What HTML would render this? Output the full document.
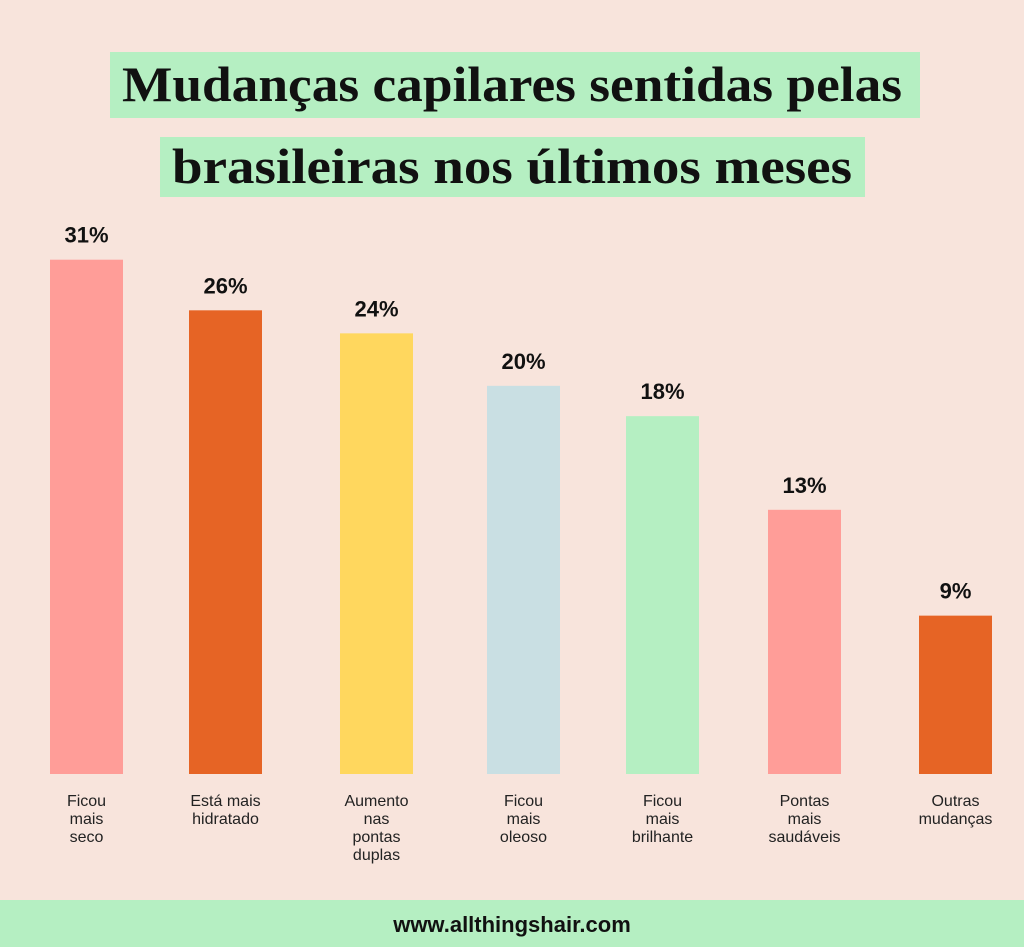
<!DOCTYPE html>
<html><head><meta charset="utf-8"><style>
body{margin:0;background:#f8e4dc;}
svg{display:block}
</style></head><body>
<svg id="c" width="1024" height="947" xmlns="http://www.w3.org/2000/svg">
<rect x="0" y="0" width="1024" height="947" fill="#f8e4dc"/>
<rect x="110" y="52" width="810" height="66" fill="#b5efc2"/>
<rect x="160" y="137" width="705" height="60" fill="#b5efc2"/>
<text x="512" y="101" text-anchor="middle" font-family="Liberation Serif, serif" font-weight="bold" font-size="50" textLength="780" lengthAdjust="spacingAndGlyphs" fill="#111">Mudanças capilares sentidas pelas</text>
<text x="512" y="183" text-anchor="middle" font-family="Liberation Serif, serif" font-weight="bold" font-size="50" textLength="680" lengthAdjust="spacingAndGlyphs" fill="#111">brasileiras nos últimos meses</text>
<g id="bars"></g>
<rect x="0" y="900" width="1024" height="47" fill="#b5efc2"/>
<text x="512" y="932" text-anchor="middle" font-family="Liberation Sans, sans-serif" font-weight="bold" font-size="22" fill="#111">www.allthingshair.com</text>
</svg>
<script>
const categories = [["Ficou","mais","seco"],["Está mais","hidratado"],["Aumento","nas","pontas","duplas"],["Ficou","mais","oleoso"],["Ficou","mais","brilhante"],["Pontas","mais","saudáveis"],["Outras","mudanças"]];
const values = [31,26,24,20,18,13,9];
const labels = ["31%","26%","24%","20%","18%","13%","9%"];
const colors = ["#ff9d98","#e66425","#ffd75e","#c9dfe3","#b5efc2","#ff9d98","#e66425"];
const centers = [86.5,225.5,376.5,523.5,662.5,804.5,955.5];
const baseY = 774;
function yScale(v){ return baseY - Math.max(0, -474 + 287.8*Math.log(v)); }
const g = document.getElementById('bars');
const NS = "http://www.w3.org/2000/svg";
values.forEach((v,i)=>{
  const cx = centers[i], top = yScale(v);
  const r = document.createElementNS(NS,'rect');
  r.setAttribute('x', cx-36.5); r.setAttribute('y', top);
  r.setAttribute('width', 73); r.setAttribute('height', baseY-top);
  r.setAttribute('fill', colors[i]);
  
  
  g.appendChild(r);
  const t = document.createElementNS(NS,'text');
  t.setAttribute('x', cx); t.setAttribute('y', top-17);
  t.setAttribute('text-anchor','middle');
  t.setAttribute('font-family','Liberation Sans, sans-serif');
  t.setAttribute('font-weight','bold'); t.setAttribute('font-size','22');
  t.setAttribute('fill','#111');
  t.textContent = labels[i];
  
  
  g.appendChild(t);
  categories[i].forEach((line,j)=>{
    const c = document.createElementNS(NS,'text');
    c.setAttribute('x', cx); c.setAttribute('y', 806+j*18);
    c.setAttribute('text-anchor','middle');
    c.setAttribute('font-family','Liberation Sans, sans-serif');
    c.setAttribute('font-size','16'); c.setAttribute('fill','#222');
    c.textContent = line;
    
    
    g.appendChild(c);
  });
});
</script>
</body></html>
